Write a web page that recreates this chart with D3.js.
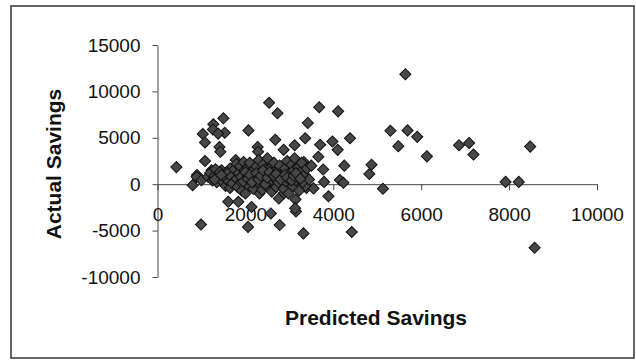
<!DOCTYPE html>
<html>
<head>
<meta charset="utf-8">
<script src="https://cdn.jsdelivr.net/npm/d3@7"></script>
<style>
  body { margin: 0; background: #fff; }
  text { font-family: 'Liberation Sans', Arial, sans-serif; fill: #111; }
</style>
</head>
<body>
<div id="chart"></div>
<script>
// predicted vs actual savings
var predicted = [
  430, 800, 900, 990, 1030, 1080, 1080, 1270, 1260, 1500, 1530, 1380, 1410, 1430,
  2070, 2060, 2140, 2280, 2290, 2320, 2540, 2730, 2580, 2680, 2780, 2870, 2760, 2880,
  3120, 3140, 3150, 3130, 3320, 3360, 3420, 3390, 3550, 3660, 3700, 3680, 3770, 3790,
  3890, 3980, 4100, 4110, 4150, 4230, 4250, 4380, 4420, 4820, 4870, 5130, 5300, 5480,
  5640, 5690, 5910, 6130, 6860, 7090, 7190, 7920, 8220, 8480, 8580,
  3330, 3330, 3360, 890, 1000, 1230, 1460, 1650, 1610, 1840,
  1150, 1200, 1250, 1300, 1320, 1350, 1400, 1420, 1480, 1500, 1550, 1560, 1600, 1620, 1650, 1680, 1700,
  1750, 1780, 1800, 1800, 1820, 1850, 1880, 1900, 1920, 1950, 1960, 1980, 2000, 2020, 2050, 2060, 2080, 2100, 2120, 2150, 2180, 2200,
  2250, 2280, 2300, 2320, 2350, 2380, 2400, 2420, 2450, 2480, 2500, 2520, 2550, 2580, 2600, 2620, 2650, 2680, 2700, 2720, 2750, 2780,
  2850, 2870, 2900, 2920, 2950, 2980, 3000, 3020, 3050, 3080, 3100, 3120, 3150, 3180, 3200, 3220, 3250, 3280, 3300, 3350, 3400, 3450, 3500,
  1900, 1950, 2000, 2050, 2100, 2150, 2250, 2300, 2350, 2400, 2450, 2500, 2550, 2650, 2700, 2800, 2900, 2950, 3050, 3100, 3150, 3250, 1300, 1450
]
var actual = [
  1840, -100, 1000, -4350, 5400, 4500, 2500, 6450, 5900, 7100, 5550, 5450, 4000, 3500,
  5800, -4600, -2450, 4000, 3500, -1000, 8770, 7650, -3150, 4780, -4400, 3700, -1550, -950,
  4200, -1650, -2950, -2600, -5300, 4950, 6600, -400, -450, 2950, 4250, 8300, 1580, 250,
  -1300, 4600, 3700, 7850, 450, 150, 2000, 4950, -5150, 1100, 2100, -480, 5750, 4100,
  11850, 5800, 5100, 3000, 4200, 4450, 3200, 250, 250, 4050, -6850,
  2400, 150, -200, 790, 430, 1500, 1500, 1700, -1900, -1900,
  800, 1200, 400, 900, 1600, 200, 700, 1300, 300, 900, -200, 600, 1200, 300, -400, 800, 100,
  1600, 2600, 2200, 600, -300, 1200, 1900, 200, -700, 900, 2400, 1500, -1000, 500, 1800, 1100, -200, 2300, 700, 1400, -500, 300,
  1900, 800, 2600, 100, 1300, -600, 2100, 500, 1600, -200, 2800, 1000, 300, 1800, -800, 1300, 2300, 600, -300, 1500, 200, 2000,
  900, -500, 1700, 300, 2500, -1000, 1200, 600, 2100, -200, 1500, 2800, 400, 900, 1800, -700, 1300, 2300, 200, 1000, 1700, 500, 2000,
  800, 300, 1300, 600, 1000, 200, 1200, 500, 900, 1500, 0, 700, 1300, 900, 1100, 500, 1000, 700, 400, 900, 1200, 600, 500, 1000
]
var xTicks = [0, 2000, 4000, 6000, 8000, 10000]
var yTicks = [-10000, -5000, 0, 5000, 10000, 15000]

var width = 636
var height = 360

var svg = d3.select('#chart')
  .append('svg')
  .attr('width', width)
  .attr('height', height)

svg.append('rect')
  .attr('width', width).attr('height', height)
  .attr('fill', '#fff')

// outer chart frame
svg.append('rect')
  .attr('x', 11).attr('y', 6)
  .attr('width', 623).attr('height', 352)
  .attr('fill', 'none')
  .attr('stroke', '#333')
  .attr('stroke-width', 1.5)

var x = d3.scaleLinear().domain([0, 10000]).range([157.5, 597])
var y = d3.scaleLinear().domain([-10000, 15000]).range([277, 45])

// plain hyphen for negatives, as in the original
var plain = d => String(d)

var yAxis = d3.axisLeft(y)
  .tickValues(yTicks)
  .tickFormat(plain)
  .tickSize(5)
  .tickSizeOuter(0)
  .tickPadding(12)

var xAxis = d3.axisBottom(x)
  .tickValues(xTicks)
  .tickFormat(plain)
  .tickSize(6)
  .tickSizeOuter(0)
  .tickPadding(17)

svg.append('g')
  .attr('transform', 'translate(' + x(0) + ',0)')
  .call(yAxis)

svg.append('g')
  .attr('transform', 'translate(0,' + y(0) + ')')
  .call(xAxis)

svg.selectAll('.domain, .tick line').attr('stroke', '#444')
svg.selectAll('.tick text')
  .attr('font-size', 19)
  .attr('font-family', "'Liberation Sans', Arial, sans-serif")
  .attr('fill', '#111')

// diamonds
var diamond = d3.symbol().type(d3.symbolSquare).size(62)
svg.append('g')
  .selectAll('path')
  .data(predicted.map((p, i) => [p, actual[i]]))
  .enter()
  .append('path')
  .attr('d', diamond)
  .attr('transform', d => 'translate(' + x(d[0]) + ',' + y(d[1]) + ') rotate(45)')
  .attr('fill', '#474747')
  .attr('stroke', '#111')
  .attr('stroke-width', 1)

// axis titles
svg.append('text')
  .attr('transform', 'translate(61,164) rotate(-90)')
  .attr('text-anchor', 'middle')
  .attr('font-size', 21)
  .attr('font-weight', 'bold')
  .text('Actual Savings')

svg.append('text')
  .attr('x', 376)
  .attr('y', 325)
  .attr('text-anchor', 'middle')
  .attr('font-size', 21)
  .attr('font-weight', 'bold')
  .text('Predicted Savings')
</script>
</body>
</html>
